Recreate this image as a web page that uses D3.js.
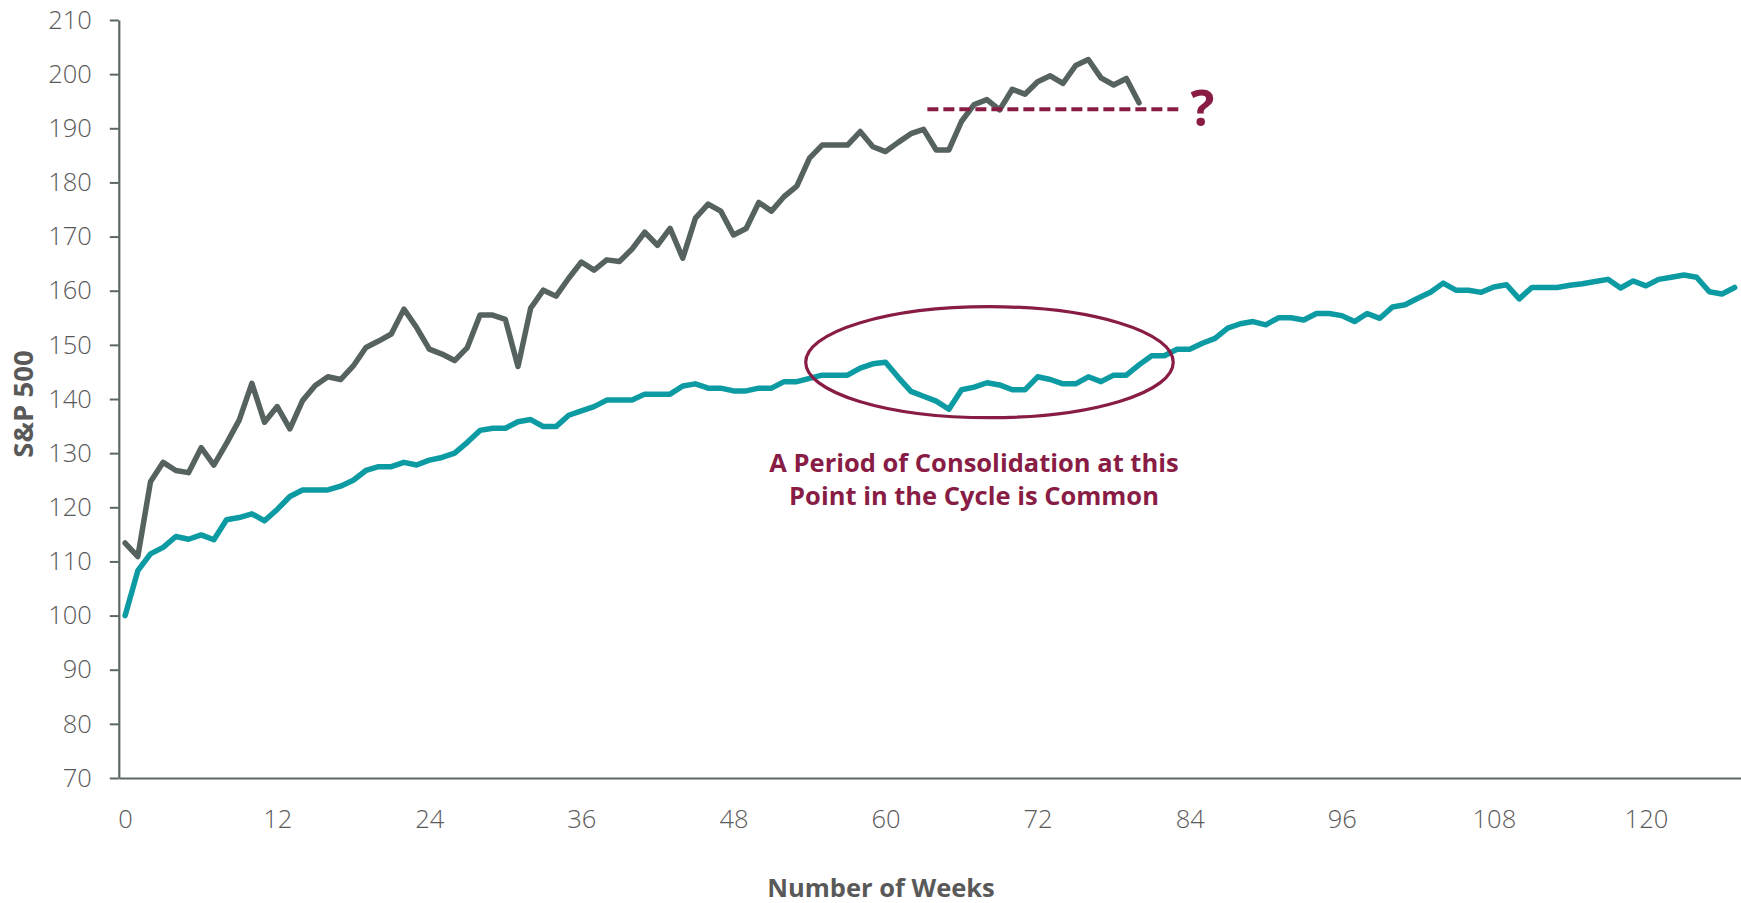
<!DOCTYPE html>
<html>
<head>
<meta charset="utf-8">
<script src="https://cdn.jsdelivr.net/npm/d3@7"></script>
<style>
  html, body { margin: 0; padding: 0; background: #ffffff; }
  svg { display: block; }
</style>
</head>
<body>
<svg id="chart" width="1741" height="903"></svg>
<script>
// Weekly S&P 500 path, indexed to 100 at week 0 (average cycle)
const averageWeeks = d3.range(0, 128);
const averageValues = [
  100, 108.3, 111.4, 112.6, 114.6, 114.1, 114.9, 114.0, 117.7, 118.1,
  118.8, 117.5, 119.6, 122.0, 123.2, 123.2, 123.2, 123.9, 125.0, 126.8,
  127.5, 127.5, 128.3, 127.8, 128.7, 129.2, 130.0, 132.0, 134.2, 134.6,
  134.6, 135.8, 136.2, 134.9, 134.9, 137.0, 137.8, 138.6, 139.8, 139.8,
  139.8, 140.9, 140.9, 140.9, 142.4, 142.8, 142.0, 142.0, 141.5, 141.5,
  142.0, 142.0, 143.2, 143.2, 143.8, 144.4, 144.4, 144.4, 145.7, 146.5,
  146.8, 144.0, 141.4, 140.5, 139.6, 138.1, 141.7, 142.2, 143.0, 142.6,
  141.7, 141.7, 144.1, 143.6, 142.8, 142.8, 144.1, 143.2, 144.4, 144.4,
  146.3, 148.0, 148.0, 149.2, 149.2, 150.3, 151.2, 153.1, 153.9, 154.3,
  153.7, 155.0, 155.0, 154.6, 155.8, 155.8, 155.4, 154.3, 155.8, 154.9,
  157.0, 157.4, 158.6, 159.7, 161.4, 160.1, 160.1, 159.7, 160.7, 161.1,
  158.5, 160.6, 160.6, 160.6, 161.0, 161.3, 161.7, 162.1, 160.5, 161.8,
  160.9, 162.1, 162.5, 162.9, 162.5, 159.8, 159.4, 160.6
];

// Current cycle, weeks 0-80
const currentWeeks = d3.range(0, 81);
const currentValues = [
  113.4, 110.9, 124.7, 128.3, 126.8, 126.4, 131.0, 127.8, 131.8, 136.1,
  142.9, 135.7, 138.6, 134.5, 139.7, 142.5, 144.1, 143.6, 146.1, 149.5,
  150.7, 152.0, 156.6, 153.2, 149.2, 148.3, 147.1, 149.5, 155.5, 155.5,
  154.7, 146.0, 156.8, 160.1, 159.0, 162.3, 165.3, 163.8, 165.7, 165.4,
  167.7, 170.8, 168.4, 171.5, 166.0, 173.4, 176.0, 174.7, 170.3, 171.5,
  176.3, 174.7, 177.4, 179.3, 184.5, 186.9, 186.9, 186.9, 189.4, 186.6,
  185.7, 187.4, 189.0, 189.8, 186.0, 186.0, 191.3, 194.4, 195.3, 193.4,
  197.2, 196.3, 198.6, 199.7, 198.3, 201.6, 202.7, 199.3, 198.0, 199.2,
  194.7
];

// Axis ticks
const xTickValues = [0, 12, 24, 36, 48, 60, 72, 84, 96, 108, 120];
const yTickValues = [70, 80, 90, 100, 110, 120, 130, 140, 150, 160, 170, 180, 190, 200, 210];

// Annotation geometry in data units
const dashedLevel = 193.5;
const dashedWeeks = [63.3, 83.1];
const questionWeek = 85;
const ellipseCenter = { week: 68.2, value: 146.8 };
const ellipseRadius = { weeks: 14.5, value: 10.25 };
const noteLines = ["A Period of Consolidation at this", "Point in the Cycle is Common"];

const colors = {
  current: "#56625f",
  average: "#0c9ba2",
  note: "#881c45",
  axis: "#5d6866",
  text: "#595959"
};

const svg = d3.select("#chart");
const W = 1741;

const x = d3.scaleLinear().domain([-0.5, 127.5]).range([118.8, W]);
const y = d3.scaleLinear().domain([70, 210]).range([778, 20]);

const fontStack = "'Open Sans', 'Noto Sans', sans-serif";

// X axis
const xAxis = svg.append("g")
  .attr("transform", `translate(0,${y(70)})`)
  .call(d3.axisBottom(x).tickValues(xTickValues).tickSize(0).tickSizeOuter(0).tickPadding(32));
xAxis.select(".domain").attr("stroke", colors.axis).attr("stroke-width", 2.2);
xAxis.selectAll("text")
  .attr("fill", colors.text)
  .style("font-family", fontStack)
  .style("font-weight", 300)
  .style("font-size", "25.5px");

// Y axis
const yAxis = svg.append("g")
  .attr("transform", `translate(${x(-0.5)},0)`)
  .call(d3.axisLeft(y).tickValues(yTickValues).tickSize(9).tickSizeOuter(0).tickPadding(18));
yAxis.select(".domain").attr("stroke", colors.axis).attr("stroke-width", 2.2);
yAxis.selectAll(".tick line").attr("stroke", colors.axis).attr("stroke-width", 2);
yAxis.selectAll("text")
  .attr("fill", colors.text)
  .style("font-family", fontStack)
  .style("font-weight", 300)
  .style("font-size", "25.5px");

// Axis titles
svg.append("text")
  .attr("transform", `translate(33,404) rotate(-90)`)
  .attr("text-anchor", "middle")
  .attr("fill", colors.text)
  .style("font-family", fontStack)
  .style("font-weight", 700)
  .style("font-size", "27.5px")
  .text("S&P 500");

svg.append("text")
  .attr("x", 881)
  .attr("y", 897)
  .attr("text-anchor", "middle")
  .attr("fill", colors.text)
  .style("font-family", fontStack)
  .style("font-weight", 700)
  .style("font-size", "25.5px")
  .text("Number of Weeks");

// Series lines
const line = d3.line().x(d => x(d[0])).y(d => y(d[1]));

svg.append("path")
  .datum(averageWeeks.map((w, i) => [w, averageValues[i]]))
  .attr("fill", "none")
  .attr("stroke", colors.average)
  .attr("stroke-width", 5.5)
  .attr("stroke-linejoin", "round")
  .attr("stroke-linecap", "round")
  .attr("d", line);

svg.append("path")
  .datum(currentWeeks.map((w, i) => [w, currentValues[i]]))
  .attr("fill", "none")
  .attr("stroke", colors.current)
  .attr("stroke-width", 5.5)
  .attr("stroke-linejoin", "round")
  .attr("stroke-linecap", "round")
  .attr("d", line);

// Prior-high reference line with question mark
svg.append("line")
  .attr("x1", x(dashedWeeks[0]))
  .attr("x2", x(dashedWeeks[1]))
  .attr("y1", y(dashedLevel))
  .attr("y2", y(dashedLevel))
  .attr("stroke", colors.note)
  .attr("stroke-width", 4)
  .attr("stroke-dasharray", "11,5");

svg.append("text")
  .attr("x", x(questionWeek))
  .attr("y", 126)
  .attr("text-anchor", "middle")
  .attr("fill", colors.note)
  .style("font-family", fontStack)
  .style("font-weight", 700)
  .style("font-size", "50px")
  .text("?");

// Consolidation ellipse
svg.append("ellipse")
  .attr("cx", x(ellipseCenter.week))
  .attr("cy", y(ellipseCenter.value))
  .attr("rx", x(ellipseCenter.week + ellipseRadius.weeks) - x(ellipseCenter.week))
  .attr("ry", y(ellipseCenter.value - ellipseRadius.value) - y(ellipseCenter.value))
  .attr("fill", "none")
  .attr("stroke", colors.note)
  .attr("stroke-width", 3.2);

// Note text
svg.append("text")
  .attr("text-anchor", "middle")
  .attr("fill", colors.note)
  .style("font-family", fontStack)
  .style("font-weight", 700)
  .style("font-size", "25.5px")
  .selectAll("tspan")
  .data(noteLines)
  .join("tspan")
  .attr("x", 974)
  .attr("y", (d, i) => 471.5 + i * 33.3)
  .text(d => d);
</script>
</body>
</html>
